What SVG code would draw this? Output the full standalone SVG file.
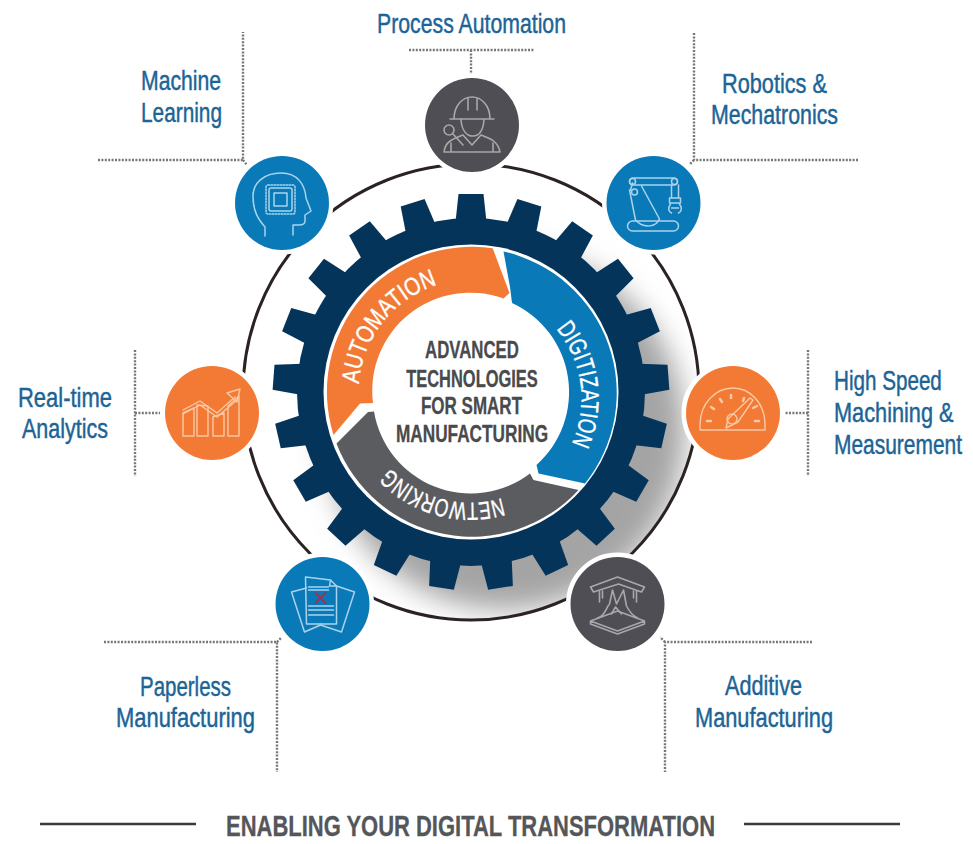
<svg xmlns="http://www.w3.org/2000/svg" width="973" height="844" viewBox="0 0 973 844">
<style>
text{font-family:"Liberation Sans Narrow","Liberation Sans",Arial,sans-serif}
.lbl{font-size:27px;fill:#1c6496;stroke:#1c6496;stroke-width:.45}
.ctr{font-size:23px;font-weight:bold;fill:#4a4a4c;stroke:#4a4a4c;stroke-width:.3;text-anchor:middle}
.seg{font-size:25px;fill:#fff;stroke:#fff;stroke-width:.35}
.dot{fill:none;stroke:#777;stroke-width:2.4;stroke-dasharray:2 1.4}
.halo{stroke:#fff;stroke-width:9;paint-order:stroke}
.ib{fill:none;stroke:#a9d3ea;stroke-width:1.5;stroke-linejoin:round;stroke-linecap:round}
.ig{fill:none;stroke:#a8a8aa;stroke-width:1.6;stroke-linejoin:round;stroke-linecap:round}
.io{fill:none;stroke:#f9c8a4;stroke-width:1.4;stroke-linejoin:round;stroke-linecap:round}
</style>
<defs>
<filter id="blur" x="-30%" y="-30%" width="160%" height="160%"><feGaussianBlur stdDeviation="14"/></filter>
<clipPath id="inRing"><circle cx="471" cy="392" r="228"/></clipPath>
<polygon id="tooth" points="-15.5,-170 -12.5,-198 12.5,-198 15.5,-170"/>
<path id="pA" d="M359,384 A112,112 0 0 1 437,285"/>
<path id="pD" d="M556,329 A108,108 0 0 1 571,445"/>
<path id="pN" d="M502,498 A110,110 0 0 1 394,472"/>
</defs>
<rect width="973" height="844" fill="#fff"/>

<g id="shadow" clip-path="url(#inRing)"><circle cx="505" cy="430" r="180" fill="#a4a4a4" filter="url(#blur)"/></g>

<g id="connectors">
<circle id="ring" cx="471" cy="392" r="228" fill="none" stroke="#2b2222" stroke-width="3"/>
<path class="dot" d="M409,50H534M471,50V74"/>
<path class="dot" d="M98,160H243V32M243,160L247,165"/>
<path class="dot" d="M858,160H694V33M694,160L690,164"/>
<path class="dot" d="M135,350V476M135,413H160"/>
<path class="dot" d="M808,350V476M808,413H785"/>
<path class="dot" d="M104,642H277V772M277,642L281,638"/>
<path class="dot" d="M812,642H665V772M665,642L660,637"/>
</g>

<g id="gear" fill="#05345a" transform="translate(471 392)">
<circle r="174"/>
<use href="#tooth"/>
<use href="#tooth" transform="rotate(17.143)"/>
<use href="#tooth" transform="rotate(34.286)"/>
<use href="#tooth" transform="rotate(51.429)"/>
<use href="#tooth" transform="rotate(68.571)"/>
<use href="#tooth" transform="rotate(85.714)"/>
<use href="#tooth" transform="rotate(102.857)"/>
<use href="#tooth" transform="rotate(120)"/>
<use href="#tooth" transform="rotate(137.143)"/>
<use href="#tooth" transform="rotate(154.286)"/>
<use href="#tooth" transform="rotate(171.429)"/>
<use href="#tooth" transform="rotate(188.571)"/>
<use href="#tooth" transform="rotate(205.714)"/>
<use href="#tooth" transform="rotate(222.857)"/>
<use href="#tooth" transform="rotate(240)"/>
<use href="#tooth" transform="rotate(257.143)"/>
<use href="#tooth" transform="rotate(274.286)"/>
<use href="#tooth" transform="rotate(291.429)"/>
<use href="#tooth" transform="rotate(308.571)"/>
<use href="#tooth" transform="rotate(325.714)"/>
<use href="#tooth" transform="rotate(342.857)"/>
<circle r="147.5" fill="#fff"/>
</g>

<g id="automation">
<path fill="#f37a34" d="M333.500,435 A145,145 0 0 1 492.700,248.300 L509.500,293 L503.500,298.500 A98,98 0 0 0 373,403 L360,403.500 Z"/>
<text class="seg"><textPath href="#pA" textLength="134" lengthAdjust="spacingAndGlyphs">AUTOMATION</textPath></text>
</g>
<g id="digitization">
<path fill="#0a79b8" d="M503.500,251.500 A145,145 0 0 1 585,483.500 L538.500,473.500 L536.500,465 A98,98 0 0 0 512,303 L510,287 Z"/>
<text class="seg"><textPath href="#pD" textLength="122" lengthAdjust="spacingAndGlyphs">DIGITIZATION</textPath></text>
</g>
<g id="networking">
<path fill="#5b5c60" d="M578.500,490 A145,145 0 0 1 336.500,443.500 L368,412 L374,411.500 A98,98 0 0 0 530,473.500 L533.500,480 Z"/>
<text class="seg"><textPath href="#pN" textLength="122" lengthAdjust="spacingAndGlyphs">NETWORKING</textPath></text>
</g>

<g id="center-title">
<text class="ctr" transform="translate(472 358) scale(.73 1)">ADVANCED</text>
<text class="ctr" transform="translate(472 387) scale(.715 1)">TECHNOLOGIES</text>
<text class="ctr" transform="translate(471.500 414) scale(.74 1)">FOR SMART</text>
<text class="ctr" transform="translate(472 442) scale(.75 1)">MANUFACTURING</text>
</g>

<g id="node-process-automation">
<text class="lbl" x="377" y="33" textLength="189" lengthAdjust="spacingAndGlyphs">Process Automation</text>
<circle class="halo" cx="472" cy="125" r="47" fill="#4e4e54"/>
<g class="ig" transform="translate(472 125)">
<path d="M-18,-6 C-18,-20 -9,-28 0,-28 C9,-28 18,-20 18,-6 M-22,-6 H22 M-4,-27 V-15 M5,-27 V-15 M-11,-5 C-10,6 -5,11 1,11 C7,11 11,6 12,-5"/>
<path d="M-28,27 C-27,17 -20,14 -9,10 L0,20 L9,10 C20,14 26,17 28,27 Z M-21,27 V18 M21,27 V18"/>
<circle cx="-23" cy="5" r="5"/><path d="M-19,9 L-9,20"/>
</g>
</g>

<g id="node-machine-learning">
<text class="lbl" x="141" y="90" textLength="80" lengthAdjust="spacingAndGlyphs">Machine</text>
<text class="lbl" x="141" y="122" textLength="81" lengthAdjust="spacingAndGlyphs">Learning</text>
<circle class="halo" cx="282" cy="203" r="47" fill="#0a79b8"/>
<g class="ib" transform="translate(282 203)">
<path d="M-17,33 V24 C-24,16 -29,8 -29,-7 C-29,-20 -18,-30 -1,-30 C16,-30 23,-18 24,-5 L29,8 L23,12 V18 Q23,22 17,22 H11 V32"/>
<rect x="-13" y="-15" width="23" height="23" rx="2"/>
<rect x="-8" y="-10" width="13" height="13"/>
<rect x="-16" y="-18" width="29" height="29" rx="2" stroke-dasharray="1.5 1.5"/>
</g>
</g>

<g id="node-robotics">
<text class="lbl" x="722" y="93" textLength="105" lengthAdjust="spacingAndGlyphs">Robotics &amp;</text>
<text class="lbl" x="711" y="124" textLength="127" lengthAdjust="spacingAndGlyphs">Mechatronics</text>
<circle class="halo" cx="653.500" cy="203" r="47" fill="#0a79b8"/>
<g class="ib" transform="translate(653.500 203)">
<rect x="-26" y="18" width="51" height="10" rx="5"/>
<rect x="-24" y="-25" width="48" height="7" rx="3.500"/>
<circle cx="-21" cy="-21.500" r="3"/><circle cx="21" cy="-21.500" r="3"/>
<path d="M-24,-13 L-18,17 C-10,26 3,24 6,16 L-12,-17 M-21,-20 L-23,-13"/>
<circle cx="-19" cy="-11" r="3"/>
<path d="M18,-18 V-5 H25 V-18 M16,-5 H27 V0 H16 Z M17,1 C14,5 15,9 18,10 M26,1 C29,5 28,9 25,10 M18,5 H25"/>
</g>
</g>

<g id="node-analytics">
<text class="lbl" x="18" y="407" textLength="94" lengthAdjust="spacingAndGlyphs">Real-time</text>
<text class="lbl" x="22" y="438" textLength="86" lengthAdjust="spacingAndGlyphs">Analytics</text>
<circle class="halo" cx="212" cy="413" r="47" fill="#f37a34"/>
<g class="io" transform="translate(212 413)">
<path d="M-29,23 V0 L-18,-5 V23 Z M-15,23 V-8 L-4,-7 V23 Z M1,23 V4 L12,0 V23 Z M16,23 V-7 L27,-17 V23 Z"/>
<path d="M-29,-3 L-12,-12 L5,0 L23,-16 M-29,1 L-12,-8 L5,4 L25,-13"/>
<path d="M15,-20 L28,-24 L25,-11 Z"/>
</g>
</g>

<g id="node-high-speed">
<text class="lbl" transform="translate(834 390) scale(.765 1)">High Speed</text>
<text class="lbl" transform="translate(834 422) scale(.805 1)">Machining &amp;</text>
<text class="lbl" transform="translate(834 454) scale(.776 1)">Measurement</text>
<circle class="halo" cx="733" cy="413" r="47" fill="#f37a34"/>
<g class="io" transform="translate(733 413)">
<path d="M-33,17 V12 C-33,-10 -17,-25 0,-25 C17,-25 32,-10 32,12 V17 Z"/>
<path d="M-7,15 L-5,6 L17,-15 L20,-13 L5,9 Z"/>
<circle cx="-1" cy="6" r="5"/>
<path d="M-26,8 H-22 M22,8 H26 M-22,-6 L-19,-4 M-13,-14 L-11,-11 M-2,-18 V-15 M11,-15 L10,-12 M24,-7 L20,-5" stroke-width="2.500"/>
</g>
</g>

<g id="node-paperless">
<text class="lbl" x="140" y="696" textLength="91" lengthAdjust="spacingAndGlyphs">Paperless</text>
<text class="lbl" x="116" y="727" textLength="139" lengthAdjust="spacingAndGlyphs">Manufacturing</text>
<circle class="halo" cx="322.500" cy="604" r="47" fill="#0a79b8"/>
<g class="ib" transform="translate(322.500 604)">
<path d="M-17,-27 L8,-24 L14,-18 V20 H-16 Z M8,-24 L7,-18 H14"/>
<path d="M-16,-16 L-31,-12 L-18,28 L-2,21 M14,-18 L32,-12 L19,28 L-2,21 L-2,20"/>
<path d="M-14,-17 H6 M-14,-14 H6 M-14,2 H11 M-14,6 H11 M-14,11 H11"/>
<path d="M-7,-11 L3,-1 M3,-11 L-7,-1" stroke="#a4304e" stroke-width="1.800"/>
</g>
</g>

<g id="node-additive">
<text class="lbl" x="725" y="695" textLength="77" lengthAdjust="spacingAndGlyphs">Additive</text>
<text class="lbl" x="695" y="727" textLength="138" lengthAdjust="spacingAndGlyphs">Manufacturing</text>
<circle class="halo" cx="617.500" cy="604" r="47" fill="#4e4e54"/>
<g class="ig" transform="translate(617.500 604)">
<path d="M-27,-17 L0,-27 L27,-17 L24,-12 L1,-20 L-24,-12 Z M-18,-13 V-2 M19,-13 V-2 M-15,-13 V-6 M16,-13 V-6"/>
<path d="M-27,17 L0,7 L27,17 L0,27 Z M-27,17 V20 L0,30 L27,20 V17"/>
<path d="M-20,14 C-12,12 -12,4 -8,0 L-5,-14 L-1,0 L3,-8 L6,-14 L9,2 C12,8 16,12 20,14 M-6,10 L-2,3 L4,10"/>
</g>
</g>

<g id="footer">
<path d="M40,824H196M744,824H900" stroke="#3a3a3a" stroke-width="2.500" fill="none"/>
<text x="226" y="836" font-size="29" font-weight="bold" fill="#55565a" stroke="#55565a" stroke-width=".3" textLength="489" lengthAdjust="spacingAndGlyphs">ENABLING YOUR DIGITAL TRANSFORMATION</text>
</g>
</svg>
